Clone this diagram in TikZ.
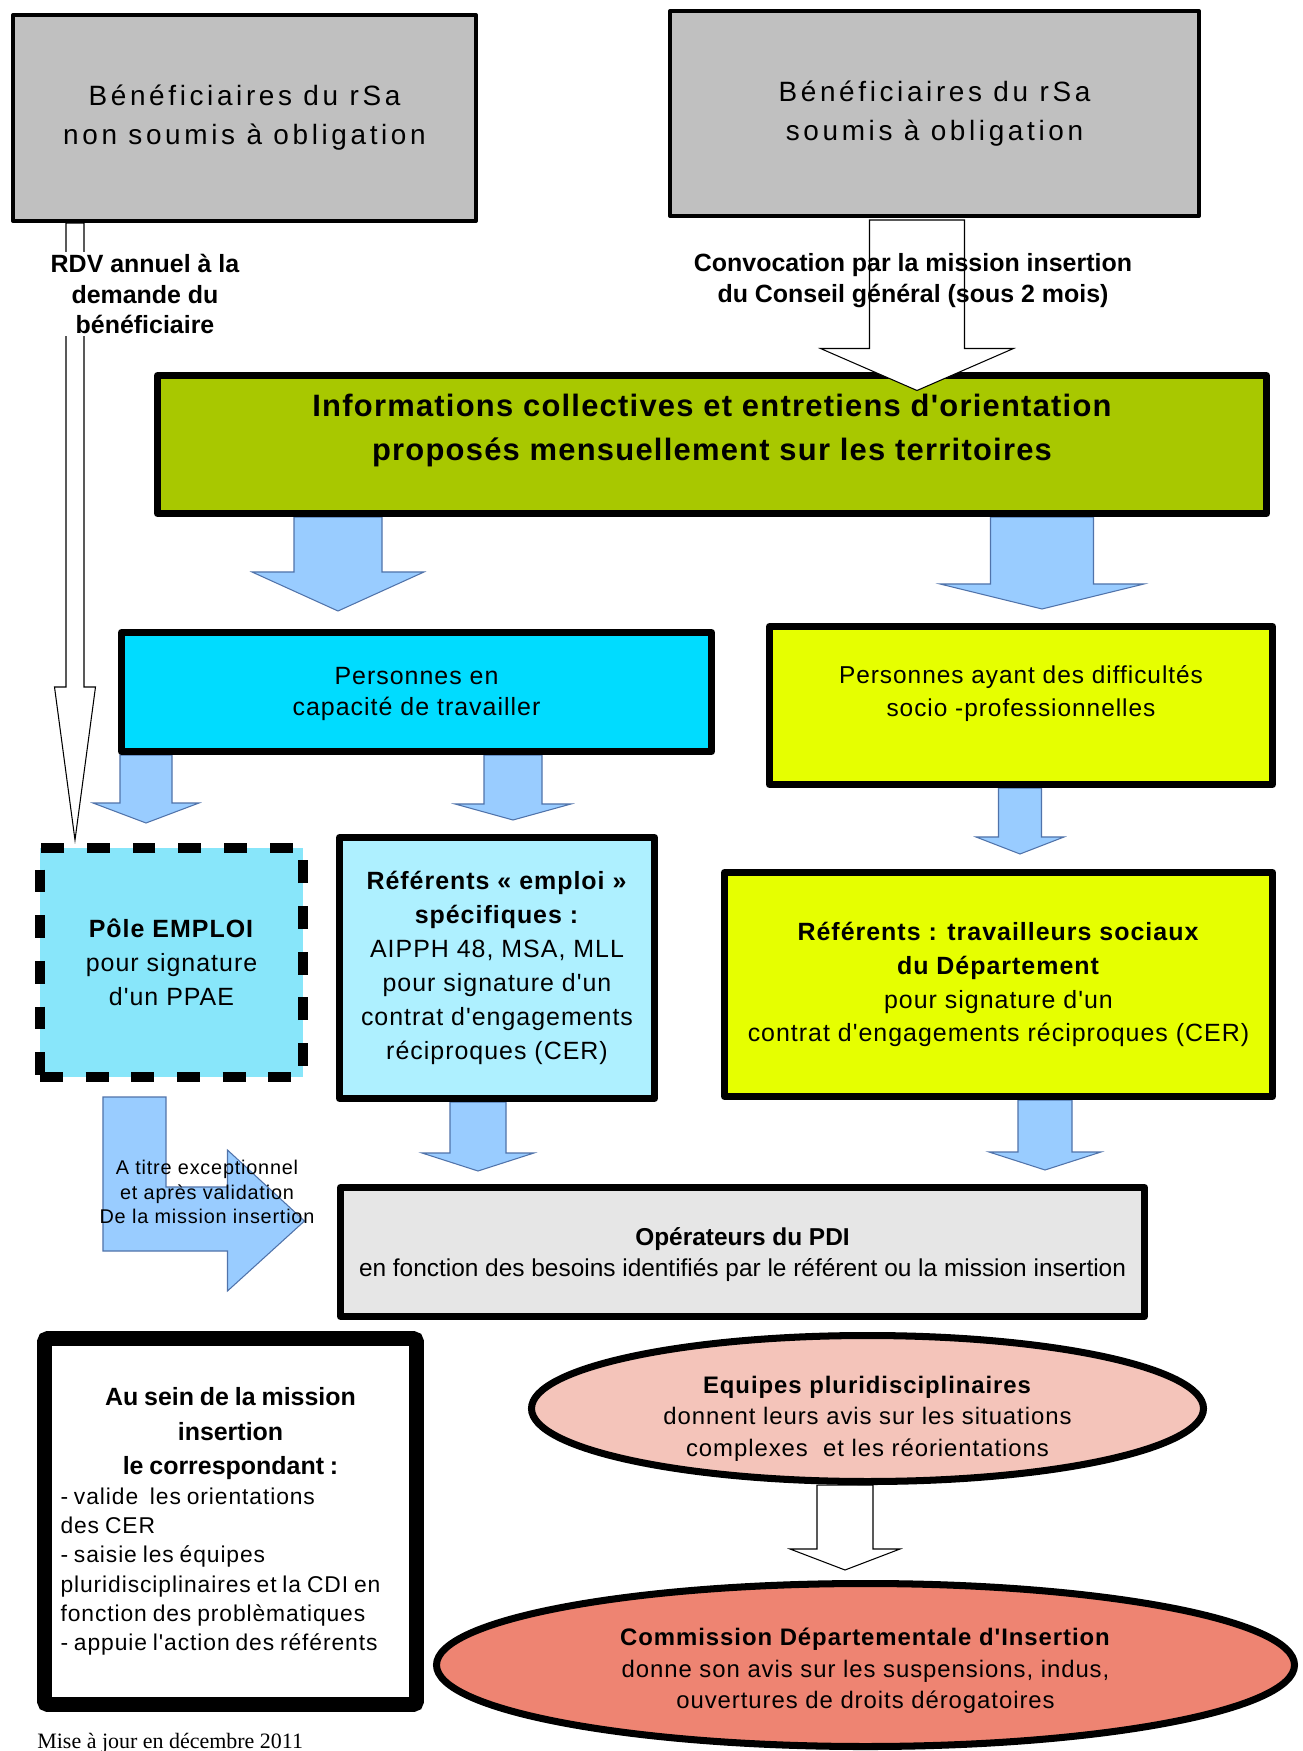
\documentclass[tikz,border=0pt]{standalone}
\usepackage{fontspec}
\setmainfont{Liberation Sans}
\newfontfamily\trackfont[LetterSpace=4]{Liberation Sans}
\newfontfamily\widefont[LetterSpace=13]{Liberation Sans}
\newfontfamily\seriffont{Liberation Serif}
\usepackage{tikz}
\usetikzlibrary{calc,shapes.geometric,backgrounds}
\definecolor{boxgray}{RGB}{192,192,192}
\definecolor{infogreen}{RGB}{168,200,0}
\definecolor{capacyan}{RGB}{0,220,255}
\definecolor{diffyellow}{RGB}{230,255,0}
\definecolor{polecyan}{RGB}{136,230,250}
\definecolor{empcyan}{RGB}{174,240,255}
\definecolor{opgray}{RGB}{230,230,230}
\definecolor{eqpink}{RGB}{244,196,186}
\definecolor{cdisalmon}{RGB}{238,132,114}
\definecolor{arrowblue}{RGB}{153,204,255}
\definecolor{arrowedge}{RGB}{80,115,170}
\tikzset{
  sz/.style 2 args={minimum width=#1*0.02cm, minimum height=#2*0.02cm},
  graybox/.style  ={draw, line width=2.3pt, line join=round, fill=boxgray, align=center, inner sep=0pt,
                    font=\widefont\fontsize{15.9pt}{22.1pt}\selectfont},
  thickbox/.style ={draw, line width=4pt, line join=round, align=center, inner sep=0pt,
                    font=\trackfont\fontsize{14.2pt}{19.3pt}\selectfont},
  dashbox/.style  ={draw, line width=5.7pt, dash pattern=on 13pt off 13pt, fill=polecyan, align=center,
                    inner sep=0pt, font=\trackfont\fontsize{14.2pt}{19.3pt}\selectfont},
  missbox/.style  ={draw, line width=8.5pt, rounded corners=2pt, fill=white, inner sep=0pt, align=left,
                    text width=6.8cm},
  ovalbox/.style  ={draw, ellipse, line width=4pt, inner sep=0pt},
  lbl/.style      ={align=center, inner sep=1pt, font=\bfseries\fontsize{14.2pt}{17.6pt}\selectfont},
  bigtxt/.style   ={align=center, font=\trackfont\bfseries\fontsize{17.6pt}{25.5pt}\selectfont},
  txt/.style      ={align=center, font=\trackfont\fontsize{13.9pt}{18.4pt}\selectfont},
  ovaltxt/.style  ={align=center, font=\trackfont\fontsize{13.6pt}{17.9pt}\selectfont},
  smalltxt/.style ={align=center, font=\trackfont\fontsize{11.3pt}{13.9pt}\selectfont},
  blkarr/.style   ={draw=arrowedge, fill=arrowblue, line width=0.6pt},
  hollowarr/.style={draw=black, fill=white, line width=0.6pt},
}
% downward block arrow: start, tip, half shaft, half head, head length
\newcommand{\blkdown}[6][blkarr]{%
  \path #2 coordinate (ba) #3 coordinate (bb);
  \draw[#1] ($(ba)+(-#4,0)$) -- ($(bb)+(-#4,-#6)$) -- ($(bb)+(-#5,-#6)$) -- (bb)
    -- ($(bb)+(#5,-#6)$) -- ($(bb)+(#4,-#6)$) -- ($(ba)+(#4,0)$) -- cycle;}

\begin{document}
\begin{tikzpicture}[x=0.02cm, y=-0.02cm]
  \useasboundingbox (0,0) rectangle (1302,1751);
  % arrow columns
  \coordinate (xrdv)  at (75,0);
  \coordinate (xconv) at (917,0);
  \coordinate (xcapa) at (338,0);
  \coordinate (xdiff) at (1042,0);
  \coordinate (xpole) at (146,0);
  \coordinate (xemp)  at (513,0);
  \coordinate (xsoc)  at (1020,0);
  \coordinate (xop1)  at (478,0);
  \coordinate (xop2)  at (1045,0);
  \coordinate (xcdi)  at (845,0);

  % boxes
  \node[graybox, sz={463}{206}] (benA) at (244.5,118) {Bénéficiaires du rSa\\ non soumis à obligation};
  \node[graybox, sz={529}{205}] (benB) at (934.5,113.5) {Bénéficiaires du rSa\\ soumis à obligation};
  \node[thickbox, fill=infogreen, sz={1109}{138}] (infos) at (712,444.5) {};
  \node[thickbox, fill=capacyan, sz={590}{119}] (capa) at (416.5,692) {};
  \node[thickbox, fill=diffyellow, sz={503}{158}] (diff) at (1021,705.5) {};
  \node[dashbox, sz={263}{229}] (pole) at (171.5,962.5) {\textbf{Pôle EMPLOI}\\ pour signature\\ d'un PPAE};
  \node[thickbox, fill=empcyan, sz={315}{261}] (refemp) at (497,968)
    {\textbf{Référents « emploi »}\\ \textbf{spécifiques :}\\ AIPPH 48, MSA, MLL\\ pour signature d'un\\ contrat d'engagements\\ réciproques (CER)};
  \node[thickbox, fill=diffyellow, sz={548}{224}] (refsoc) at (998.5,984.5)
    {\textbf{Référents : travailleurs sociaux}\\ \textbf{du Département}\\ pour signature d'un\\ contrat d'engagements réciproques (CER)};
  \node[thickbox, fill=opgray, sz={804}{129}] (oper) at (742.5,1252) {};
  \node[missbox, sz={372}{366}] (mission) at (230.5,1521.5)
    {{\centering\bfseries\fontsize{14.2pt}{19.8pt}\selectfont Au sein de la mission\\ insertion\\ le correspondant :\par}
     {\trackfont\fontsize{13pt}{16.7pt}\selectfont - valide\ \ les orientations\\ des CER\\ - saisie les équipes\\
      pluridisciplinaires et la CDI en\\ fonction des problèmatiques\\ - appuie l'action des référents\par}};
  \node[ovalbox, fill=eqpink, sz={672}{146}] (equipes) at (867.5,1408.5) {};
  \node[ovalbox, fill=cdisalmon, sz={858}{163}] (cdi) at (865.5,1665) {};

  % texts set off the box centres
  \node[bigtxt] (infostxt) at ($(infos.center)+(0,-14)$)
    {Informations collectives et entretiens d'orientation\\ proposés mensuellement sur les territoires};
  \node[txt, font=\trackfont\fontsize{14.2pt}{18.1pt}\selectfont] (capatxt) at ($(capa.center)+(0,2)$)
    {Personnes en\\ capacité de travailler};
  \node[txt] (difftxt) at ($(diff.center)+(0,-12)$) {Personnes ayant des difficultés\\ socio -professionnelles};
  \node[txt, font=\fontsize{13.9pt}{17.6pt}\selectfont] (opertxt) at ($(oper.center)+(0,3)$)
    {\textbf{Opérateurs du PDI}\\ en fonction des besoins identifiés par le référent ou la mission insertion};
  \node[ovaltxt] (eqtxt) at ($(equipes.center)+(0,10)$)
    {\textbf{Equipes pluridisciplinaires}\\ donnent leurs avis sur les situations\\ complexes\ \ et les réorientations};
  \node[ovaltxt] (cditxt) at ($(cdi.center)+(0,6)$)
    {\textbf{Commission Départementale d'Insertion}\\ donne son avis sur les suspensions, indus,\\ ouvertures de droits dérogatoires};

  % arrows behind the boxes
  \begin{scope}[on background layer]
    \fill[white] (0,0) rectangle (1302,1751);
    \blkdown{(infos.south -| xcapa)}{($(capa.north -| xcapa)+(0,-18)$)}{44}{86}{39}
    \blkdown{(infos.south -| xdiff)}{($(diff.north -| xdiff)+(0,-14)$)}{51.5}{102}{25}
    \blkdown{(capa.south -| xpole)}{($(pole.north -| xpole)+(0,-20)$)}{26}{53}{20}
    \blkdown{(capa.south -| xemp)}{($(refemp.north -| xemp)+(0,-14)$)}{29}{58}{16}
    \blkdown{(diff.south -| xsoc)}{($(refsoc.north -| xsoc)+(0,-15)$)}{21.5}{44}{17}
    \blkdown{(refemp.south -| xop1)}{($(oper.north -| xop1)+(0,-13)$)}{28}{56}{18}
    \blkdown{(refsoc.south -| xop2)}{($(oper.north -| xop2)+(0,-14)$)}{27}{56}{18}
    \blkdown[hollowarr]{(benA.south -| xrdv)}{($(pole.north -| xrdv)+(0,-3)$)}{9}{20.5}{153}
    \blkdown[hollowarr]{(equipes.south -| xcdi)}{($(cdi.north -| xcdi)+(0,-10)$)}{28}{55}{21}
    % bent arrow from Pole EMPLOI towards the operators
    \path ($(pole.south west)+(68,15)$) coordinate (bnt) ($(oper.west)+(-32.5,-31)$) coordinate (bnh);
    \coordinate (bnu) at ($(bnh)+(-77,-34)$);
    \coordinate (bnd) at ($(bnh)+(-77,30)$);
    \draw[blkarr] (bnt) -- ++(63,0) coordinate (bnr) -- (bnr |- bnu) -- (bnu) -- ($(bnh)+(-77,-71)$) -- (bnh)
      -- ($(bnh)+(-77,70)$) -- (bnd) -- (bnt |- bnd) -- cycle;
  \end{scope}

  % hollow arrow into the information box
  \blkdown[hollowarr]{($(benB.south -| xconv)+(0,2)$)}{($(infos.north -| xconv)+(0,18.5)$)}{47.5}{96.5}{42}

  % labels
  \node[lbl, fill=white] (rdv) at (145,294) {RDV annuel à la\\ demande du\\ bénéficiaire};
  \node[lbl] (conv) at (913,281) {Convocation par la mission insertion\\ du Conseil général (sous 2 mois)};
  \node[smalltxt] (excep) at (207,1192) {A titre exceptionnel\\ et après validation\\ De la mission insertion};
  \node[anchor=north west, inner sep=0pt, font=\seriffont\fontsize{12.5pt}{15pt}\selectfont] (maj) at (37,1733)
    {Mise à jour en décembre 2011};
\end{tikzpicture}
\end{document}
